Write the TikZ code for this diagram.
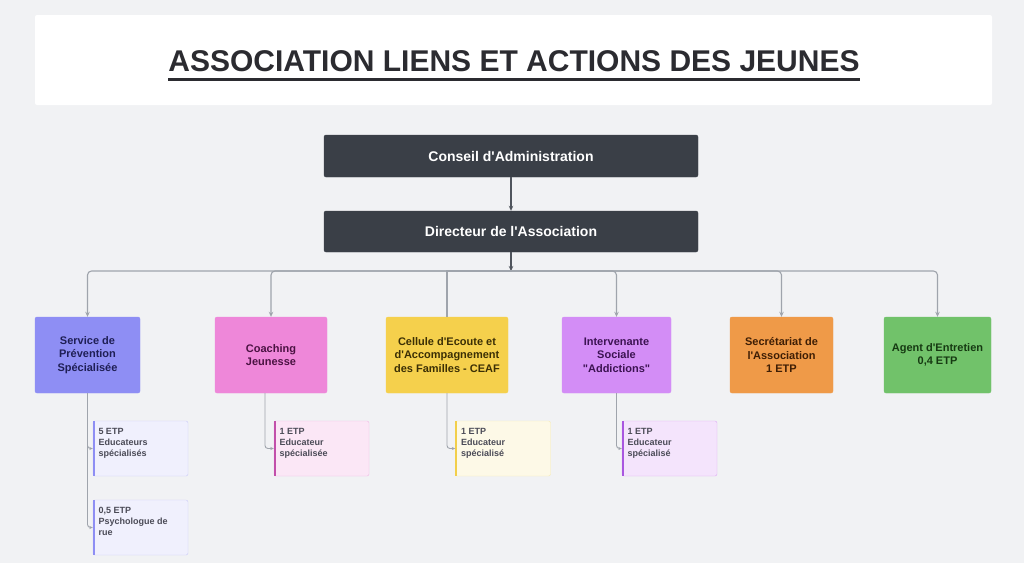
\documentclass[tikz,border=0pt]{standalone}
\usepackage{fontspec}
\setmainfont{Liberation Sans}[Ligatures=TeXOff]
\usetikzlibrary{arrows.meta}

\definecolor{bg}{HTML}{F1F2F4}
\definecolor{dark}{HTML}{3A3F47}
\definecolor{arrdark}{HTML}{50555D}
\definecolor{linkgray}{HTML}{9FA4AC}
\definecolor{titletext}{HTML}{2B2B30}
\definecolor{subtext}{HTML}{4B4B57}
\definecolor{spsfill}{HTML}{8E8EF4}\definecolor{spstext}{HTML}{1F1F55}
\definecolor{coachfill}{HTML}{EE87D9}\definecolor{coachtext}{HTML}{4A1242}
\definecolor{ceaffill}{HTML}{F5D04C}\definecolor{ceaftext}{HTML}{3B2F05}
\definecolor{intfill}{HTML}{D38DF6}\definecolor{inttext}{HTML}{3C1352}
\definecolor{secfill}{HTML}{EF9A48}\definecolor{sectext}{HTML}{3E1E05}
\definecolor{agentfill}{HTML}{71C26A}\definecolor{agenttext}{HTML}{163A12}
\definecolor{spssub}{HTML}{F0F0FD}\definecolor{spsline}{HTML}{CACAF7}\definecolor{spsbar}{HTML}{8E8EF4}
\definecolor{coachsub}{HTML}{FBE7F6}\definecolor{coachline}{HTML}{F0B8E5}\definecolor{coachbar}{HTML}{C24FAA}
\definecolor{ceafsub}{HTML}{FDF9E7}\definecolor{ceafline}{HTML}{F6EBB5}\definecolor{ceafbar}{HTML}{F2CF4A}
\definecolor{intsub}{HTML}{F4E4FC}\definecolor{intline}{HTML}{DEAAF4}\definecolor{intbar}{HTML}{A956E0}

\tikzset{
  head/.style={fill=dark, draw=dark, rounded corners=2, minimum width=374, minimum height=42,
    text=white, font=\bfseries\fontsize{14}{16}\selectfont},
  unit/.style={rounded corners=2, minimum height=76, align=center, inner sep=2,
    font=\bfseries\fontsize{11}{13.5}\selectfont},
  sub/.style={rounded corners=2, inner xsep=5.5, inner ysep=7, text=subtext,
    font=\bfseries\fontsize{9}{11.3}\selectfont,
    execute at begin node={\begin{minipage}[c][41pt][t]{84pt}\raggedright},
    execute at end node={\end{minipage}}},
  bar/.style={line width=2.2},
  link/.style={draw=linkgray, line width=1.1},
  arr/.style={link, -{Stealth[length=5,width=4.5]}},
  subarr/.style={link, line width=0.9, -{Stealth[length=3.5,width=3]}},
}

\begin{document}
\begin{tikzpicture}[x=1pt,y=-1pt]
\fill[bg] (0,0) rectangle (1024,563);
\useasboundingbox (0,0) rectangle (1024,563);

% title
\node (titlebox) at (513.5,60) [fill=white, minimum width=957, minimum height=90, rounded corners=2] {};
\node (title) at (514,71) [anchor=base, inner sep=0, text=titletext, font=\bfseries\fontsize{30}{34}\selectfont] {ASSOCIATION LIENS ET ACTIONS DES JEUNES};
\draw[titletext, line width=3] ([yshift=-8.5]title.base west) -- ([yshift=-8.5]title.base east);

% direction
\node (conseil) at (511,156) [head] {Conseil d'Administration};
\node (dir) at (511,231.5) [head, minimum height=41] {Directeur de l'Association};

% services
\node (sps) at (87.5,355) [unit, fill=spsfill, draw=spsfill, text=spstext, minimum width=105] {Service de\\Prévention\\Spécialisée};
\node (coach) at (271,355) [unit, fill=coachfill, draw=coachfill, text=coachtext, minimum width=112] {Coaching\\Jeunesse};
\node (ceaf) at (447,355) [unit, fill=ceaffill, draw=ceaffill, text=ceaftext, minimum width=122] {Cellule d'Ecoute et\\d'Accompagnement\\des Familles - CEAF};
\node (interv) at (616.5,355) [unit, fill=intfill, draw=intfill, text=inttext, minimum width=109] {Intervenante\\Sociale\\"Addictions"};
\node (secr) at (781.5,355) [unit, fill=secfill, draw=secfill, text=sectext, minimum width=103] {Secrétariat de\\l'Association\\1 ETP};
\node (agent) at (937.5,355) [unit, fill=agentfill, draw=agentfill, text=agenttext, minimum width=107] {Agent d'Entretien\\0,4 ETP};

% postes
\node (sps1) at (140.5,448.5) [sub, fill=spssub, draw=spsline] {5 ETP\\Educateurs\\spécialisés};
\node (sps2) at (140.5,527.5) [sub, fill=spssub, draw=spsline] {0,5 ETP\\Psychologue de\\rue};
\node (coach1) at (321.5,448.5) [sub, fill=coachsub, draw=coachline] {1 ETP\\Educateur\\spécialisée};
\node (ceaf1) at (503,448.5) [sub, fill=ceafsub, draw=ceafline] {1 ETP\\Educateur\\spécialisé};
\node (interv1) at (669.5,448.5) [sub, fill=intsub, draw=intline] {1 ETP\\Educateur\\spécialisé};
\draw[bar, spsbar] ([xshift=1]sps1.north west) -- ([xshift=1]sps1.south west);
\draw[bar, spsbar] ([xshift=1]sps2.north west) -- ([xshift=1]sps2.south west);
\draw[bar, coachbar] ([xshift=1]coach1.north west) -- ([xshift=1]coach1.south west);
\draw[bar, ceafbar] ([xshift=1]ceaf1.north west) -- ([xshift=1]ceaf1.south west);
\draw[bar, intbar] ([xshift=1]interv1.north west) -- ([xshift=1]interv1.south west);

% liens
\coordinate (bus) at (511,271);
\draw[arr, draw=arrdark] (conseil) -- (dir);
\draw[arr, draw=arrdark] (dir) -- (bus);
\foreach \n in {sps,coach,interv,secr,agent}
  \draw[arr, rounded corners=4] (bus) -| (\n);
\draw[link] (bus) -| (ceaf);

\coordinate (coachs) at ([xshift=-6]coach.south);
\draw[subarr, rounded corners=3] (sps) |- (sps1);
\draw[subarr, rounded corners=3] (sps) |- (sps2);
\draw[subarr, rounded corners=3] (coachs) |- (coach1);
\draw[subarr, rounded corners=3] (ceaf) |- (ceaf1);
\draw[subarr, rounded corners=3] (interv) |- (interv1);
\end{tikzpicture}
\end{document}
